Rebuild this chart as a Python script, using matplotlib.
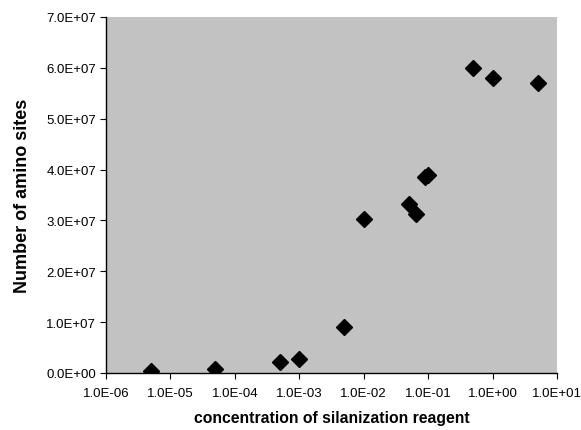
import numpy as np
import matplotlib
matplotlib.use('Agg')
import matplotlib.pyplot as plt
from matplotlib.ticker import FuncFormatter, FixedLocator

plt.rcParams['font.family'] = ['Liberation Sans', 'DejaVu Sans']

# concentration of silanization reagent vs number of amino sites
concentration = [5e-6, 5e-5, 5e-4, 1e-3, 5e-3, 1e-2, 5e-2, 6.5e-2, 9e-2, 1e-1, 5e-1, 1.0, 5.0]
amino_sites = [4e5, 7e5, 2.1e6, 2.8e6, 9.1e6, 3.02e7, 3.32e7, 3.12e7, 3.85e7, 3.9e7, 6.0e7, 5.8e7, 5.7e7]

x_ticks = [1e-6, 1e-5, 1e-4, 1e-3, 1e-2, 1e-1, 1e0, 1e1]
y_ticks = [0, 1e7, 2e7, 3e7, 4e7, 5e7, 6e7, 7e7]


def sci_fmt(v, pos):
    if v == 0:
        return '0.0E+00'
    exp = int(np.floor(np.log10(abs(v)) + 1e-9))
    mant = v / 10 ** exp
    sign = '+' if exp >= 0 else '-'
    return f'{mant:.1f}E{sign}{abs(exp):02d}'


fig = plt.figure(figsize=(5.81, 4.31), dpi=100)
ax = fig.add_axes([0.1824, 0.1323, 0.7763, 0.826])
ax.set_facecolor('#c2c2c2')

ax.plot(concentration, amino_sites, linestyle='none', marker='D',
        markersize=8.5, color='black', zorder=3)

ax.set_xscale('log')
ax.set_xlim(1e-6, 1e1)
ax.set_ylim(0, 7e7)
ax.xaxis.set_major_locator(FixedLocator(x_ticks))
ax.xaxis.set_minor_locator(FixedLocator([]))
ax.yaxis.set_major_locator(FixedLocator(y_ticks))
ax.xaxis.set_major_formatter(FuncFormatter(sci_fmt))
ax.yaxis.set_major_formatter(FuncFormatter(sci_fmt))

for side in ['top', 'right']:
    ax.spines[side].set_visible(False)
for side in ['left', 'bottom']:
    ax.spines[side].set_linewidth(1.0)
    ax.spines[side].set_color('black')

ax.tick_params(axis='both', direction='out', length=4, width=0.8,
               labelsize=9.5, pad=3)
ax.tick_params(axis='x', pad=6)

ax.set_xlabel('concentration of silanization reagent', fontsize=11.3,
              fontweight='bold', labelpad=8)
ax.set_ylabel('Number of amino sites', fontsize=13, fontweight='bold',
              labelpad=11)

fig.savefig('out.png', dpi=100)
